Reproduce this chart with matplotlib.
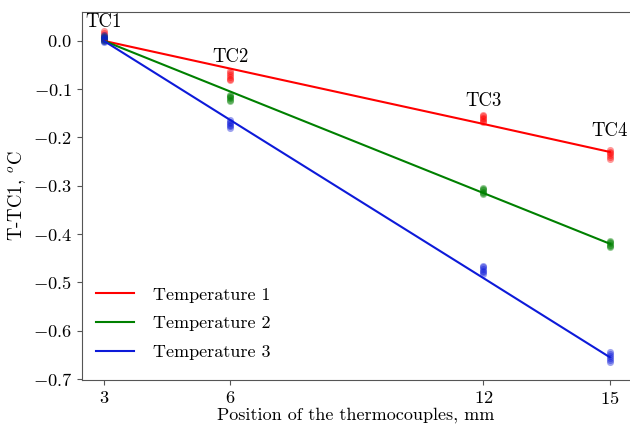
import matplotlib
matplotlib.use("Agg")
import matplotlib.pyplot as plt
import numpy as np

plt.rcParams["font.family"] = "serif"
plt.rcParams["font.serif"] = ["cmr10"]
plt.rcParams["mathtext.fontset"] = "cm"
plt.rcParams["axes.formatter.use_mathtext"] = True

positions = [3, 6, 12, 15]
tc_labels = ["TC1", "TC2", "TC3", "TC4"]
tc_label_y = [0.039, -0.033, -0.124, -0.186]

# several readings per thermocouple (T - TC1)
temp1 = [[0.021, 0.017, 0.013, 0.009, 0.005, 0.002],
         [-0.062, -0.066, -0.070, -0.074, -0.078, -0.081],
         [-0.153, -0.156, -0.159, -0.162, -0.165, -0.168],
         [-0.226, -0.230, -0.233, -0.237, -0.241, -0.244]]
temp2 = [[0.010, 0.008, 0.006, 0.004, 0.002, 0.0],
         [-0.112, -0.114, -0.117, -0.119, -0.122, -0.124],
         [-0.304, -0.307, -0.309, -0.312, -0.315, -0.317],
         [-0.414, -0.417, -0.419, -0.422, -0.425, -0.427]]
temp3 = [[0.012, 0.009, 0.006, 0.003, 0.0, -0.002],
         [-0.164, -0.167, -0.170, -0.174, -0.177, -0.180],
         [-0.466, -0.469, -0.472, -0.476, -0.479, -0.482],
         [-0.644, -0.648, -0.652, -0.657, -0.661, -0.665]]

# linear fits
fit1 = [0.0, -0.0575, -0.172, -0.230]
fit2 = [0.0, -0.105, -0.315, -0.420]
fit3 = [0.0, -0.164, -0.491, -0.655]

series = [(temp1, fit1, "red", "Temperature 1"),
          (temp2, fit2, "green", "Temperature 2"),
          (temp3, fit3, (0.05, 0.1, 0.85), "Temperature 3")]

fig = plt.figure(figsize=(6.3, 4.24), dpi=100)
ax = fig.add_axes([0.130, 0.104, 0.87, 0.868])

for vals, fit, col, lab in series:
    for x, ys in zip(positions, vals):
        ax.scatter([x] * len(ys), ys, s=26, color=col, alpha=0.4, lw=0)
    ax.plot(positions, fit, color=col, lw=1.5, label=lab)

for x, y, t in zip(positions, tc_label_y, tc_labels):
    ax.text(x, y, t, ha="center", va="center", fontsize=13.5)

ax.set_xlim(2.48, 15.48)
ax.set_ylim(-0.702, 0.06)
ax.set_xticks(positions)
ax.set_yticks(np.arange(-0.7, 0.01, 0.1))
ax.set_xlabel("Position of the thermocouples, mm", fontsize=13, labelpad=0.5)
ax.set_ylabel("T-TC1, $^o$C", fontsize=13.5, labelpad=3)
ax.tick_params(labelsize=13.3, color="#555555")
for sp in ["left", "bottom", "top"]:
    ax.spines[sp].set_color("#555555")
ax.spines["right"].set_visible(False)
ax.legend(loc="lower left", frameon=False, fontsize=13, bbox_to_anchor=(-0.004, 0.01),
          handlelength=2.1, handletextpad=1.05, labelspacing=0.72)

fig.savefig("out.png", dpi=100)
